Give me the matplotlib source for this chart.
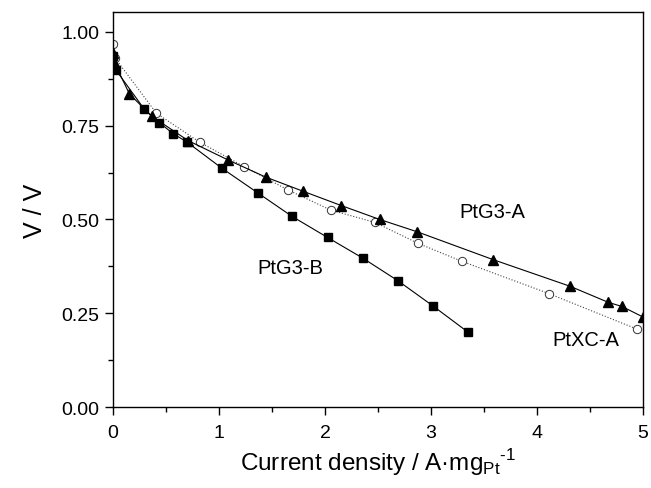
import matplotlib
matplotlib.use('Agg')
import matplotlib.pyplot as plt
from matplotlib.ticker import MultipleLocator

plt.rcParams['font.family'] = ['Liberation Sans', 'DejaVu Sans']
plt.rcParams['mathtext.fontset'] = 'custom'
plt.rcParams['mathtext.rm'] = 'Liberation Sans'

# PtG3-B (filled squares)
g3b_x = [0.0, 0.028, 0.295, 0.437, 0.566, 0.70, 1.025, 1.365, 1.69, 2.024, 2.356, 2.686, 3.016, 3.352]
g3b_y = [0.935, 0.898, 0.794, 0.758, 0.729, 0.706, 0.637, 0.571, 0.508, 0.452, 0.397, 0.337, 0.270, 0.199]

# PtG3-A (filled triangles)
g3a_x = [0.0, 0.01, 0.154, 0.365, 0.71, 1.082, 1.44, 1.795, 2.154, 2.516, 2.871, 3.585, 4.311, 4.673, 4.802, 5.0]
g3a_y = [0.945, 0.92, 0.835, 0.775, 0.710, 0.659, 0.613, 0.575, 0.537, 0.500, 0.467, 0.393, 0.322, 0.279, 0.268, 0.24]

# PtXC-A (open circles)
xca_x = [0.003, 0.02, 0.41, 0.818, 1.236, 1.648, 2.054, 2.472, 2.88, 3.295, 4.116, 4.94]
xca_y = [0.968, 0.93, 0.783, 0.706, 0.641, 0.579, 0.525, 0.492, 0.436, 0.388, 0.302, 0.208]

fig = plt.figure(figsize=(6.51, 4.89), dpi=100)
ax = fig.add_axes([0.1736, 0.1656, 0.8141, 0.8078])

ax.plot(xca_x, xca_y, linestyle=':', color='#444444', linewidth=0.8,
        marker='o', markersize=6, markerfacecolor='white', markeredgecolor='#333333',
        markeredgewidth=0.7)
ax.plot(g3a_x, g3a_y, linestyle='-', color='black', linewidth=0.8,
        marker='^', markersize=7.5, markerfacecolor='black', markeredgecolor='black')
ax.plot(g3b_x, g3b_y, linestyle='-', color='black', linewidth=0.8,
        marker='s', markersize=5.8, markerfacecolor='black', markeredgecolor='black')

ax.text(3.58, 0.52, 'PtG3-A', fontsize=14.5, ha='center', va='center')
ax.text(1.67, 0.373, 'PtG3-B', fontsize=14.5, ha='center', va='center')
ax.text(4.46, 0.181, 'PtXC-A', fontsize=14.5, ha='center', va='center')

ax.set_xlim(0, 5)
ax.set_ylim(0, 1.053)
ax.xaxis.set_major_locator(MultipleLocator(1))
ax.xaxis.set_minor_locator(MultipleLocator(0.5))
ax.yaxis.set_major_locator(MultipleLocator(0.25))
ax.yaxis.set_minor_locator(MultipleLocator(0.125))
ax.yaxis.set_major_formatter(plt.FormatStrFormatter('%.2f'))

for s in ax.spines.values():
    s.set_linewidth(1.0)
ax.tick_params(which='major', direction='out', length=6, width=1.0, labelsize=14, pad=4)
ax.tick_params(which='minor', direction='out', length=3.5, width=1.0)
ax.tick_params(axis='x', which='major', pad=6)

ax.set_xlabel('Current density / A·mg$_{\\mathrm{Pt}}$$^{\\mathrm{\u2010}1}$', fontsize=17.5, labelpad=4)
ax.set_ylabel('V / V', fontsize=18, labelpad=10)

fig.savefig('out.png', dpi=100)
